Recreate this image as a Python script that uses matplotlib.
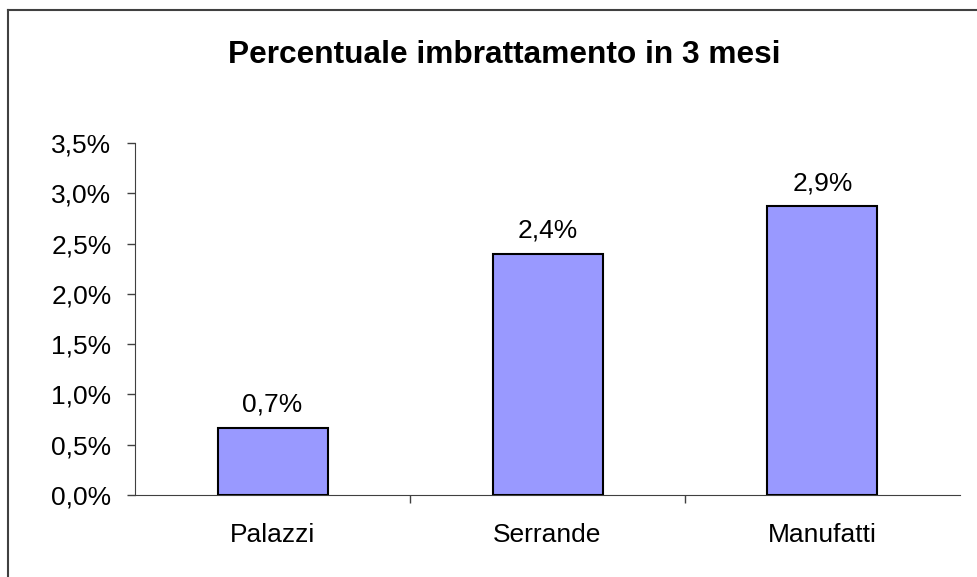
import matplotlib
matplotlib.use('Agg')
import matplotlib.pyplot as plt
from matplotlib.lines import Line2D
from matplotlib.ticker import FuncFormatter, MultipleLocator

categories = ['Palazzi', 'Serrande', 'Manufatti']
values = [0.67, 2.40, 2.87]   # percent
title = 'Percentuale imbrattamento in 3 mesi'

plt.rcParams['font.family'] = ['Liberation Sans', 'DejaVu Sans']

fig = plt.figure(figsize=(9.78, 5.77), dpi=100)
ax = fig.add_axes([135/978, 1-495/577, 825/978, 352/577])

x = list(range(len(categories)))
ax.bar(x, values, width=0.4, color='#9999ff', edgecolor='black', linewidth=1.5, zorder=3)

for xi, v in zip(x, values):
    ax.annotate(('%.1f%%' % v).replace('.', ','), (xi, v), xytext=(0, 8),
                textcoords='offset points', ha='center', va='bottom', fontsize=19)

ax.set_xlim(-0.5, len(categories) - 0.5)
ax.set_ylim(0, 3.5)
ax.yaxis.set_major_locator(MultipleLocator(0.5))
ax.yaxis.set_major_formatter(FuncFormatter(lambda v, p: ('%.1f%%' % v).replace('.', ',')))

ax.set_xticks(x)
ax.set_xticklabels(categories, fontsize=19)
ax.set_xticks([i + 0.5 for i in x[:-1]], minor=True)
ax.tick_params(axis='x', which='major', length=0, pad=20)
ax.tick_params(axis='x', which='minor', length=6, width=1, direction='out', color='#404040')
ax.tick_params(axis='y', labelsize=19, length=6, width=1, direction='out', color='#404040', pad=11)

for s in ['top', 'right']:
    ax.spines[s].set_visible(False)
ax.spines['left'].set_color('#404040')
ax.spines['bottom'].set_color('#404040')

fig.text(0.516, 1 - 55/577, title, ha='center', va='center', fontsize=22.8, fontweight='bold')

# chart frame (only left and top edges visible in the crop)
fig.add_artist(Line2D([8/978, 8/978], [0, 1 - 10/577], transform=fig.transFigure, color='#404040', lw=1.5))
fig.add_artist(Line2D([8/978, 1], [1 - 10/577, 1 - 10/577], transform=fig.transFigure, color='#404040', lw=1.5))

fig.savefig('out.png', dpi=100)
